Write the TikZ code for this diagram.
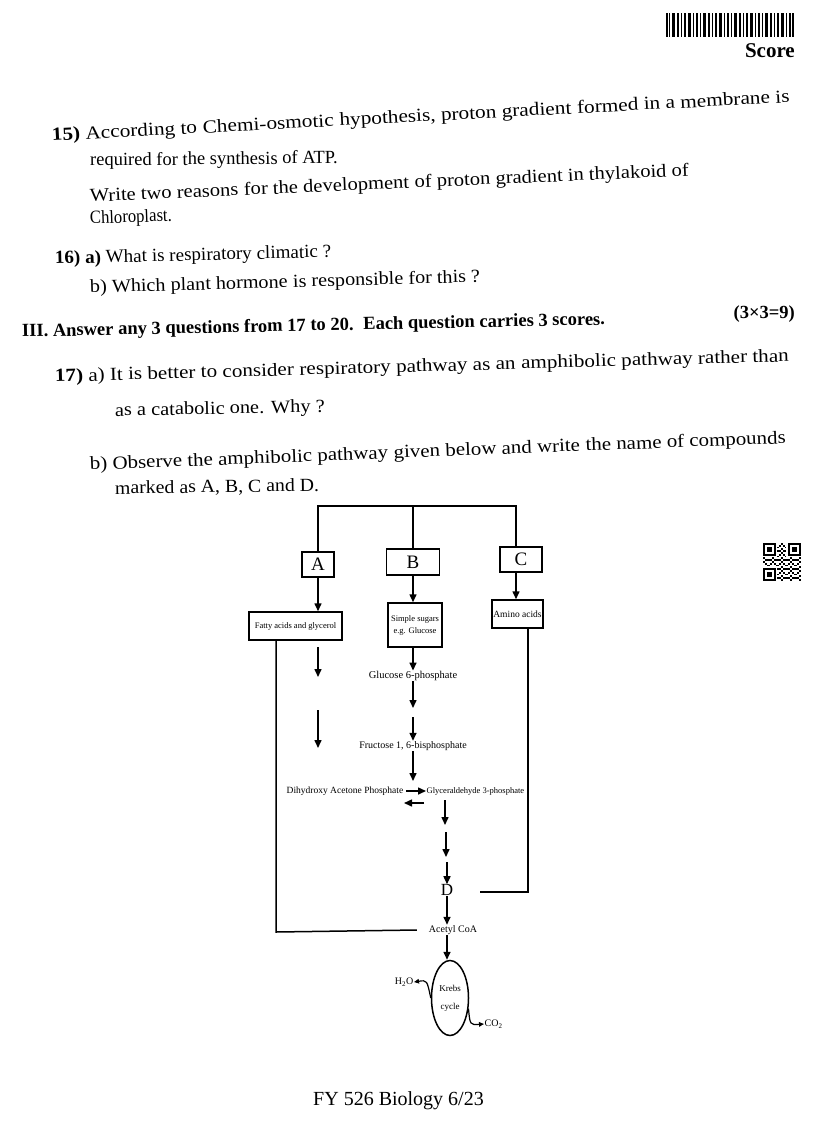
\documentclass[tikz,border=0pt]{standalone}
\usepackage{fontspec}
\setmainfont{Liberation Serif}
\usetikzlibrary{arrows.meta,shapes.geometric}
\newcommand\myfit[2]{\scalebox{#1}[1]{#2}}
\begin{document}
\begin{tikzpicture}[x=1pt,y=-1pt,
  txt/.style={anchor=base west,inner sep=0pt,font=\fontsize{18.5}{22}\selectfont},
  bx/.style={draw,line width=1.5pt,inner sep=0pt},
  ln/.style={line width=1.5pt},
  arr/.style={line width=1.5pt,-{Triangle[length=8pt,width=7pt]}},
  sarr/.style={line width=1.2pt,-{Triangle[length=5pt,width=4.5pt]}},
  lab/.style={inner sep=0.5pt,font=\fontsize{10}{11}\selectfont}]
\fill[white] (0,0) rectangle (813,1129);
\useasboundingbox (0,0) rectangle (813,1129);
% barcode
\foreach \x/\w in {666/2,669/1,672/3,677/2,681/1,684/2,688/3,693/1,696/2,700/1,703/3,708/2,712/1,715/2,719/3,724/1,727/2,731/1,734/3,739/2,743/1,746/2,750/3,755/1,758/2,762/1,765/3,770/2,774/1,777/2,781/3,786/1,789/2,792/2}
  \fill (\x,13) rectangle ++(\w,24);
\node[anchor=base east,inner sep=0pt,font=\fontsize{21}{24}\selectfont\bfseries] (score) at (795,58) {Score};
% question 15
\node[txt,rotate=3.0] (q1a) at (52,141) {\myfit{1.15}{\textbf{15)} According to}};
\node[txt,rotate=3.0] (q1d) at (q1a.base east) {\myfit{1.15}{\ Chemi-osmotic}};
\node[txt,rotate=3.0] (q1b) at (q1d.base east) {\myfit{1.15}{\ hypothesis, proton gradient}};
\node[txt,rotate=3.0] (q1c) at (q1b.base east) {\myfit{1.15}{\ formed in a membrane is}};
\node[txt,rotate=0.6] (q2) at (90,166) {required for the synthesis of ATP.};
\node[txt,rotate=2.5] (q3a) at (90,202) {\myfit{1.11}{Write two reasons}};
\node[txt,rotate=2.5] (q3c) at (q3a.base east) {\myfit{1.11}{\ for the development}};
\node[txt,rotate=2.5] (q3b) at (q3c.base east) {\myfit{1.11}{\ of proton gradient in thylakoid of}};
\node[txt,rotate=2.0] (q4) at (90,224) {\myfit{0.9}{Chloroplast.}};
% question 16
\node[txt,rotate=1.4] (q5) at (55,264) {\myfit{1.03}{\textbf{16) a)} What is respiratory climatic ?}};
\node[txt,rotate=1.6] (q6a) at (90,293) {\myfit{1.09}{b) Which plant hormone}};
\node[txt,rotate=1.6] (q6b) at (q6a.base east) {\myfit{1.09}{\ is responsible for this ?}};
% section III
\node[txt,rotate=1.2,font=\fontsize{18.5}{22}\selectfont\bfseries] (q7a) at (22,337) {III. Answer any 3 questions from 17 to 20.};
\node[txt,rotate=1.2,font=\fontsize{18.5}{22}\selectfont\bfseries] (q7b) at (q7a.base east) {\ \ Each question carries 3 scores.};
\node[anchor=base east,inner sep=0pt,font=\fontsize{18.5}{22}\selectfont\bfseries] (q8) at (795,318) {(3×3=9)};
% question 17
\node[txt,rotate=1.6] (q9a) at (55,382) {\myfit{1.14}{\textbf{17)} a) It is better to consider}};
\node[txt,rotate=1.6] (q9b) at (q9a.base east) {\myfit{1.14}{\ respiratory pathway as an}};
\node[txt,rotate=1.6] (q9c) at (q9b.base east) {\myfit{1.14}{\ amphibolic pathway rather than}};
\node[txt,rotate=1.0] (q10) at (115,416) {\myfit{1.1}{as a catabolic one. Why ?}};
\node[txt,rotate=2.2] (q11a) at (90,470) {\myfit{1.13}{b) Observe the amphibolic pathway}};
\node[txt,rotate=2.2] (q11b) at (q11a.base east) {\myfit{1.13}{\ given below and write}};
\node[txt,rotate=2.2] (q11c) at (q11b.base east) {\myfit{1.13}{\ the name of compounds}};
\node[txt,rotate=0.8] (q12) at (115,494) {\myfit{1.07}{marked as A, B, C and D.}};
% QR code
\begin{scope}[shift={(763,543)}]
\foreach \i in {0,...,20}{\foreach \j in {0,...,20}{
  \pgfmathtruncatemacro\f{((\i<8)&&(\j<8))||((\i>12)&&(\j<8))||((\i<8)&&(\j>12))}
  \pgfmathtruncatemacro\v{mod(\i*\i*3+\j*7+\i*\j*5,5)}
  \ifnum\f=0 \ifnum\v<2 \fill (\i*1.8,\j*1.8) rectangle ++(1.8,1.8); \fi\fi}}
\foreach \ox/\oy in {0/0,14/0,0/14}{
  \fill (\ox*1.8,\oy*1.8) rectangle ++(12.6,12.6);
  \fill[white] (\ox*1.8+1.8,\oy*1.8+1.8) rectangle ++(9,9);
  \fill (\ox*1.8+3.6,\oy*1.8+3.6) rectangle ++(5.4,5.4);}
\end{scope}
% diagram boxes
\node[bx,minimum width=32pt,minimum height=25pt,font=\fontsize{19}{20}\selectfont] (A) at (318,564.5) {A};
\node[bx,minimum width=53pt,minimum height=26pt,font=\fontsize{19}{20}\selectfont] (B) at (413,562) {B};
\node[bx,minimum width=42pt,minimum height=25pt,font=\fontsize{19}{20}\selectfont] (C) at (521,559.5) {C};
\node[bx,minimum width=93pt,minimum height=28pt,font=\fontsize{8.5}{9}\selectfont] (fatty) at (295.5,626) {Fatty acids and glycerol};
\node[bx,minimum width=54pt,minimum height=44pt,align=center,font=\fontsize{8.5}{12}\selectfont] (simple) at (415,625) {Simple sugars\\e.g. Glucose};
\node[bx,minimum width=51pt,minimum height=28pt,font=\fontsize{9.5}{10}\selectfont] (amino) at (517.5,614) {Amino acids};
% top connector
\coordinate (tl) at (318,506);
\coordinate (tr) at (516,506);
\draw[ln] (A.north) -- (tl) -- (tr) -- (C.north -| tr);
\draw[ln] (B.north) -- (B.north |- tl);
\draw[arr] (A.south) -- (fatty.north -| A.south);
\draw[arr] (B.south) -- (simple.north -| B.south);
\draw[arr] (C.south -| tr) -- (amino.north -| tr);
% floating arrows under fatty acids
\coordinate (fa1) at (318,647); \coordinate (fa2) at (318,677);
\coordinate (fa3) at (318,710); \coordinate (fa4) at (318,748);
\draw[arr] (fa1) -- (fa2);
\draw[arr] (fa3) -- (fa4);
% main chain
\node[lab,font=\fontsize{10.5}{11}\selectfont] (glu) at (413,676) {Glucose 6-phosphate};
\draw[arr] (simple.south -| glu) -- (glu.north);
\coordinate (m1) at (413,708); \coordinate (m2) at (413,717);
\node[lab] (fru) at (413,746) {Fructose 1, 6-bisphosphate};
\draw[arr] (glu.south) -- (m1);
\draw[arr] (m2) -- (fru.north);
\coordinate (j1) at (413,781);
\draw[arr] (fru.south) -- (j1);
\node[lab,anchor=east,font=\fontsize{9.5}{10}\selectfont] (dhap) at (404,791) {Dihydroxy Acetone Phosphate};
\node[lab,anchor=west,font=\fontsize{8.5}{10}\selectfont] (gap) at (426,791) {Glyceraldehyde 3-phosphate};
\draw[arr,shorten <=2pt] (dhap.east) -- (gap.west);
\draw[arr,shorten <=2pt] ([yshift=-12pt]gap.west) -- ([yshift=-12pt]dhap.east);
\coordinate (g1) at (445,800); \coordinate (g2) at (445,825);
\coordinate (g3) at (446,832); \coordinate (g4) at (446,857);
\coordinate (g5) at (447,862);
\draw[arr] (g1) -- (g2);
\draw[arr] (g3) -- (g4);
\node[inner sep=0pt,font=\fontsize{17}{18}\selectfont] (D) at (447,890) {D};
\draw[arr] (g5) -- (D.north);
\node[lab,inner xsep=12pt] (acetyl) at (453,930) {Acetyl CoA};
\draw[arr] (D.south) -- (D.south |- acetyl.north);
\node[ellipse,draw,line width=1.5pt,minimum width=37pt,minimum height=75pt,inner sep=0pt,align=center,font=\fontsize{9}{18}\selectfont] (krebs) at (450,998) {Krebs\\cycle};
\draw[arr] (acetyl.south -| 447,0) -- (krebs.north -| 447,0);
\node[lab,anchor=east,font=\fontsize{10}{11}\selectfont] (h2o) at (414,982) {H\textsubscript{2}O};
\node[lab,anchor=west,font=\fontsize{10}{11}\selectfont] (co2) at (484,1024) {CO\textsubscript{2}};
\draw[sarr] (krebs.west) .. controls (427,980) .. (h2o.east);
\draw[sarr] (krebs.-30) .. controls (470,1025) .. (co2.west);
% side routes
\coordinate (lb) at (276,932);
\draw[ln] (fatty.south -| lb) -- (lb) -- (acetyl.west);
\coordinate (rb) at (528,892);
\coordinate (rbe) at (480,892);
\draw[ln] (amino.south -| rb) -- (rb) -- (rbe);
% footer
\node[anchor=base west,inner sep=0pt,font=\fontsize{20}{22}\selectfont] (foot) at (313,1105) {FY 526 Biology 6/23};
\end{tikzpicture}
\end{document}
